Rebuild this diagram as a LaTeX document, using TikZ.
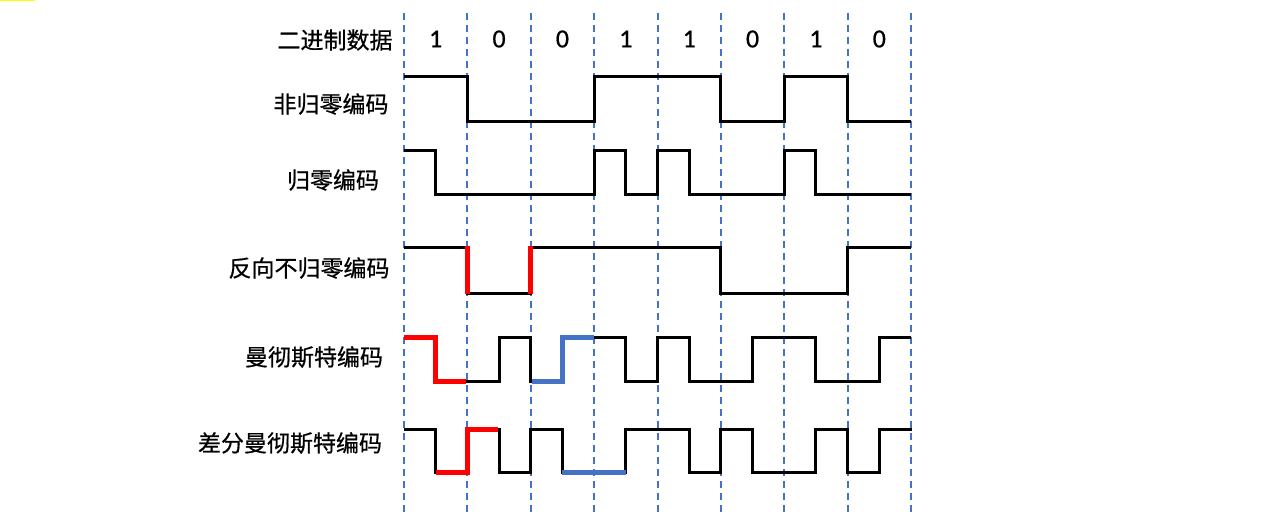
\documentclass[tikz,border=0pt]{standalone}
\usepackage{fontspec}
\newfontfamily\cjk[FakeBold=0.6]{Noto Sans CJK SC}
\newfontfamily\digitfont[FakeBold=0.6]{Carlito}
\definecolor{gridblue}{HTML}{4472C4}
\definecolor{hlblue}{HTML}{4472C4}
\definecolor{marky}{HTML}{FFFF00}
\begin{document}
\begin{tikzpicture}[x=1pt,y=-1pt,
  lbl/.style={font=\cjk\fontsize{23}{27}\selectfont, inner sep=0pt},
  dig/.style={font=\digitfont\fontsize{26}{30}\selectfont, inner sep=0pt},
  gridline/.style={draw=gridblue, line width=2pt, dash pattern=on 7pt off 5pt},
  wave/.style={line width=3pt, black},
  hlred/.style={line width=5pt, red},
  hlb/.style={line width=5pt, hlblue}]
\useasboundingbox[fill=white] (0,0) rectangle (1286,524);
\fill[marky] (0,0) rectangle (35,1.5);
% grid lines
\foreach \k in {0,...,8}
  \draw[gridline] ({404+63.375*\k},13) -- ({404+63.375*\k},512);
% labels
\node[lbl] (l0) at (335,40) {二进制数据};
\node[lbl] (l1) at (331,104) {非归零编码};
\node[lbl] (l2) at (333,180) {归零编码};
\node[lbl] (l3) at (309,268) {反向不归零编码};
\node[lbl] (l4) at (314,357) {曼彻斯特编码};
\node[lbl] (l5) at (290,443) {差分曼彻斯特编码};
% digits
\foreach \d [count=\i from 0] in {1,0,0,1,1,0,1,0}
  \node[dig] (d\i) at ({435.7+63.375*\i},39) {\d};
% NRZ
\draw[wave] (404,77) -- (467.4,77) -- (467.4,122) -- (594.1,122) -- (594.1,77)
  -- (720.9,77) -- (720.9,122) -- (784.3,122) -- (784.3,77) -- (847.6,77)
  -- (847.6,122) -- (911,122);
% RZ
\draw[wave] (404,151) -- (435.7,151) -- (435.7,195) -- (594.1,195) -- (594.1,151)
  -- (625.8,151) -- (625.8,195) -- (657.5,195) -- (657.5,151) -- (689.2,151)
  -- (689.2,195) -- (784.3,195) -- (784.3,151) -- (815.9,151) -- (815.9,195)
  -- (911,195);
% NRZI
\draw[wave] (404,247) -- (467.4,247) -- (467.4,293) -- (530.8,293) -- (530.8,247)
  -- (720.9,247) -- (720.9,293) -- (847.6,293) -- (847.6,247) -- (911,247);
\draw[hlred] (467.4,246) -- (467.4,294);
\draw[hlred] (530.8,246) -- (530.8,294);
% Manchester
\draw[wave] (404,337) -- (435.7,337) -- (435.7,381) -- (499.1,381) -- (499.1,337)
  -- (530.8,337) -- (530.8,381) -- (562.4,381) -- (562.4,337) -- (625.8,337)
  -- (625.8,381) -- (657.5,381) -- (657.5,337) -- (689.2,337) -- (689.2,381)
  -- (752.6,381) -- (752.6,337) -- (815.9,337) -- (815.9,381) -- (879.3,381)
  -- (879.3,337) -- (911,337);
\draw[hlred] (404,337) -- (435.7,337) -- (435.7,381) -- (465.5,381);
\draw[hlb] (531.5,381) -- (562.4,381) -- (562.4,337) -- (594.1,337);
% Differential Manchester
\draw[wave] (404,429) -- (435.7,429) -- (435.7,472) -- (467.4,472) -- (467.4,429)
  -- (499.1,429) -- (499.1,472) -- (530.8,472) -- (530.8,429) -- (562.4,429)
  -- (562.4,472) -- (625.8,472) -- (625.8,429) -- (689.2,429) -- (689.2,472)
  -- (720.9,472) -- (720.9,429) -- (752.6,429) -- (752.6,472) -- (815.9,472)
  -- (815.9,429) -- (847.6,429) -- (847.6,472) -- (879.3,472) -- (879.3,429)
  -- (912,429);
\draw[hlred] (435.7,472) -- (467.4,472) -- (467.4,429) -- (497.5,429);
\draw[hlb] (562.4,472) -- (625.8,472);
\end{tikzpicture}
\end{document}
